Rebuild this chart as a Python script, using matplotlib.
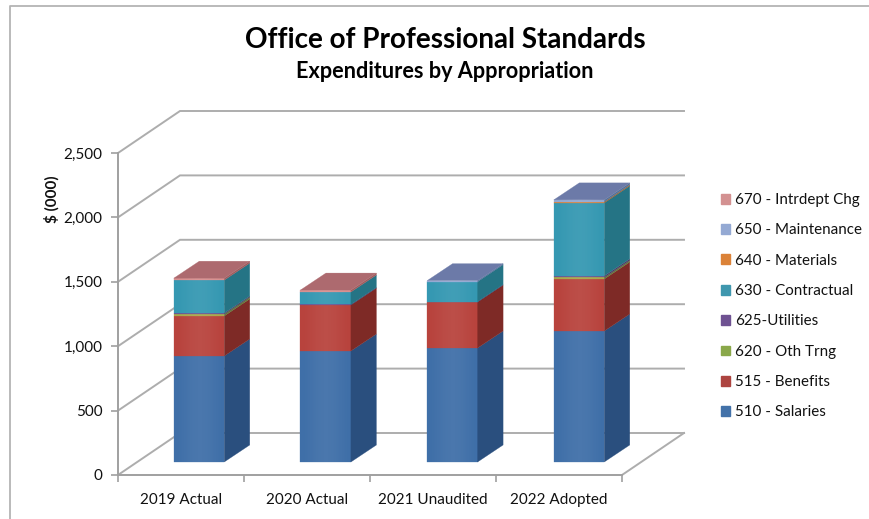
import matplotlib
matplotlib.use("Agg")
import matplotlib.pyplot as plt
import numpy as np
from matplotlib.patches import Patch, Polygon

plt.rcParams['font.family'] = ['Lato', 'DejaVu Sans']

categories = ['2019 Actual', '2020 Actual', '2021 Unaudited', '2022 Adopted']
salaries_510 = [823, 862, 885, 1017]
benefits_515 = [311, 357, 357, 404]
oth_trng_620 = [14, 0, 0, 12]
utilities_625 = [8, 4, 3, 12]
contractual_630 = [256, 97, 155, 567]
materials_640 = [0, 0, 0, 8]
maintenance_650 = [0, 0, 8, 15]
intrdept_670 = [15, 15, 0, 0]

series = [
    ('510 - Salaries', salaries_510, '#3f6fa8', '#2a4f7e', '#3f6fa8'),
    ('515 - Benefits', benefits_515, '#b8433d', '#7e2a26', '#b8433d'),
    ('620 - Oth Trng', oth_trng_620, '#a8a84a', '#64783a', '#8aa84a'),
    ('625-Utilities', utilities_625, '#6f5292', '#4e3a68', '#6f5292'),
    ('630 - Contractual', contractual_630, '#3598b2', '#257485', '#3598b2'),
    ('640 - Materials', materials_640, '#db8238', '#a0602a', '#db8238'),
    ('650 - Maintenance', maintenance_650, '#94a9d3', '#55729a', '#6c7aa8'),
    ('670 - Intrdept Chg', intrdept_670, '#d89090', '#a05c5e', '#ad6a6f'),
]
legend_colors = ['#4372a9', '#ad4440', '#8aa84a', '#6f5292', '#3f97ae', '#db8238', '#94a9d3', '#d39191']

W, H = 869, 519
fig = plt.figure(figsize=(W / 100, H / 100), dpi=100, facecolor='white')
L, R, T, B = 118, 622, 153, 475
ax = fig.add_axes([L / W, 1 - B / H, (R - L) / W, (B - T) / H])
ax.patch.set_alpha(0)

px_x = 4 / (R - L)          # category units per pixel
px_y = 2500 / (B - T)       # dollar units per pixel
wall_dx, wall_dy = 62 * px_x, 42 * px_y
bar_dx, bar_dy = 25.5 * px_x, 17 * px_y
base_dx, base_dy = 18 * px_x, 13 * px_y
bar_w = 50.5 * px_x
bar_step = 126.67 * px_x

grid = '#adadad'
for v in range(0, 2501, 500):
    ax.plot([0, wall_dx, 4 + wall_dx], [v, v + wall_dy, v + wall_dy], color=grid,
            lw=1.4, clip_on=False, zorder=1, solid_joinstyle='miter')
ax.plot([4, 4 + wall_dx], [0, wall_dy], color=grid, lw=1.4, clip_on=False, zorder=1)

overlay = np.ones((1, 64, 4))
overlay[0, :, 3] = 0.06 * np.sin(np.linspace(0.1, np.pi * 0.95, 64)) ** 2

for i in range(len(categories)):
    x0 = i * bar_step + 0.5 + base_dx - bar_w / 2
    x1 = x0 + bar_w
    bottom = base_dy
    top_colour = None
    for name, vals, front, side, top in series:
        v = vals[i]
        if v <= 0:
            continue
        y0, y1 = bottom, bottom + v
        ax.add_patch(Polygon([(x0, y0), (x1, y0), (x1, y1), (x0, y1)], closed=True,
                             facecolor=front, edgecolor=front, lw=0.2, clip_on=False, zorder=3 + i))
        ax.add_patch(Polygon([(x1, y0), (x1 + bar_dx, y0 + bar_dy), (x1 + bar_dx, y1 + bar_dy), (x1, y1)],
                             closed=True, facecolor=side, edgecolor=side, lw=0.2, clip_on=False, zorder=3 + i))
        bottom = y1
        top_colour = top
    ax.add_patch(Polygon([(x0, bottom), (x1, bottom), (x1 + bar_dx, bottom + bar_dy), (x0 + bar_dx, bottom + bar_dy)],
                         closed=True, facecolor=top_colour, edgecolor=top_colour, lw=0.2, clip_on=False, zorder=3 + i))
    ax.imshow(overlay, extent=(x0, x1, base_dy, bottom), aspect='auto', zorder=3.5 + i, clip_on=False)
ax.set_xlim(0, 4)
ax.set_ylim(0, 2500)

for s in ('top', 'right'):
    ax.spines[s].set_visible(False)
for s in ('left', 'bottom'):
    ax.spines[s].set_color('#a0a0a0')
    ax.spines[s].set_linewidth(1.4)
ax.set_yticks(range(0, 2501, 500))
ax.set_yticklabels([f'{v:,}' for v in range(0, 2501, 500)], fontsize=11, color='#111111')
ax.set_xticks(range(5))
ax.set_xticklabels([])
ax.set_xticks(np.arange(4) + 0.5, categories, minor=True, fontsize=11, color='#111111')
ax.tick_params(axis='both', which='major', length=5, width=1.2, color='#a0a0a0')
ax.tick_params(axis='y', which='major', pad=6)
ax.tick_params(axis='x', which='minor', length=0, pad=13)
ax.set_ylabel('$ (000)', fontsize=11, fontweight='bold', color='#111111', labelpad=0)
ax.yaxis.set_label_coords((60 - L) / (R - L), (B - 199) / (B - T))

fig.text(445 / W, 1 - 39.5 / H, 'Office of Professional Standards', ha='center', va='center',
         fontsize=20.1, fontweight='bold', color='black')
fig.text(445 / W, 1 - 72 / H, 'Expenditures by Appropriation', ha='center', va='center',
         fontsize=15.6, fontweight='bold', color='black')

handles = [Patch(facecolor=c, edgecolor=c, label=s[0]) for c, s in zip(legend_colors, series)][::-1]
leg = ax.legend(handles=handles, loc='upper left', frameon=False, fontsize=10.9,
                bbox_to_anchor=(721 / W, 1 - 193 / H), bbox_transform=fig.transFigure,
                borderpad=0, borderaxespad=0, handlelength=0.62, handleheight=0.62,
                handletextpad=0.3, labelspacing=1.08, labelcolor='#111111')

border = '#b4b4b4'
fig.add_artist(plt.Line2D([10 / W, 10 / W, 1], [0, 1 - 6 / H, 1 - 6 / H], color=border, lw=1.3))

fig.savefig('out.png', dpi=100)
